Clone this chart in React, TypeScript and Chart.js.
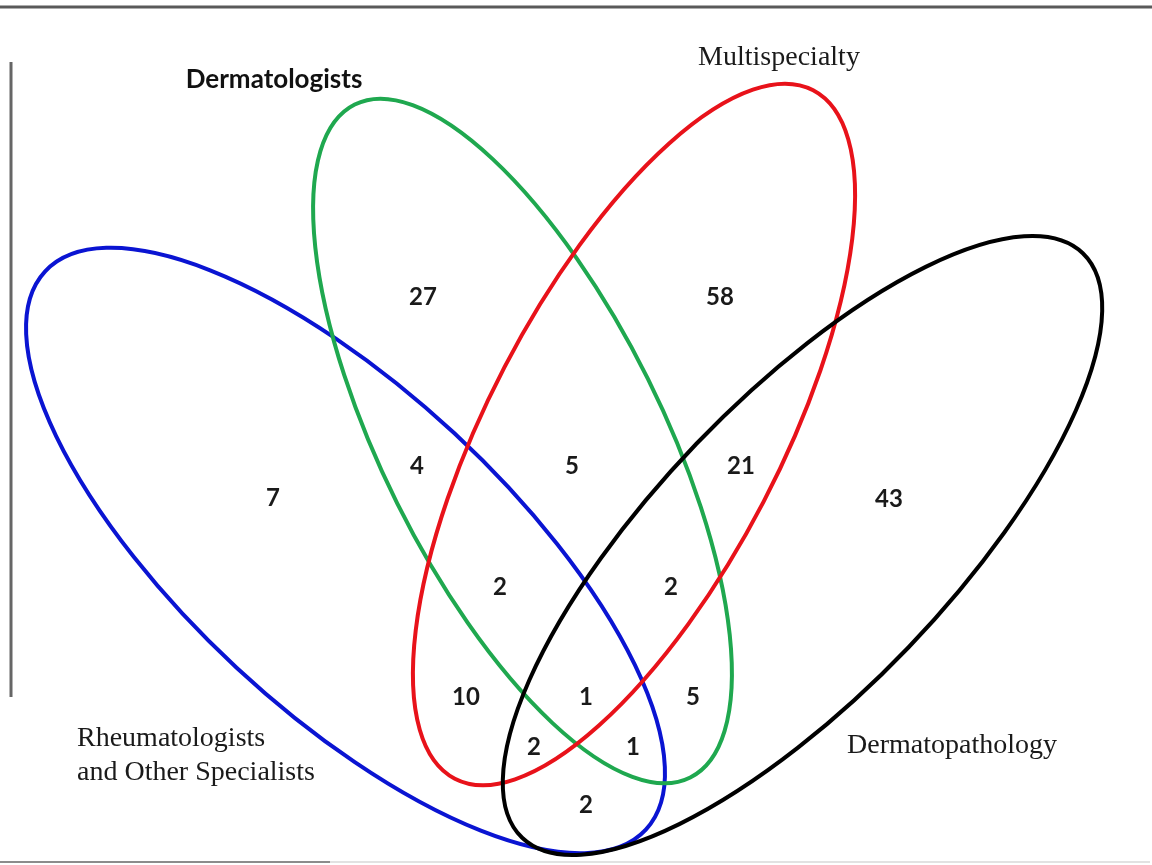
import React, { useEffect, useRef } from "react";
import { Chart, registerables } from "chart.js";

Chart.register(...registerables);

// Region counts of the Venn diagram and where each count sits (data units = pixels of the 1152x865 frame)
const regionCounts = [27, 58, 4, 5, 21, 7, 43, 2, 2, 10, 1, 5, 2, 1, 2];
const regionX = [423, 720, 417, 572, 741, 273, 889, 500, 671, 466, 586, 693, 534, 633, 586];
const regionY = [297, 297, 466, 466, 466, 498, 499, 587, 587, 697, 697, 697, 747, 747, 805];

// The four sets (ellipses)
const setNames = ["Rheumatologists|and Other Specialists", "Dermatologists", "Multispecialty", "Dermatopathology"];
const setColors = ["#0a14d2", "#1fa84f", "#e8121a", "#000000"];
const setCenterX = [345.5, 522.5, 634, 802.5];
const setCenterY = [550.5, 441, 434.5, 545.5];
const setRadiusA = [410, 376, 388, 405];
const setRadiusB = [160, 140, 146, 147];
const setRotationDeg = [42.9, 63.5, -62.5, -46.2];

// Set label placement
const labelX = [77, 274, 779, 847];
const labelY = [739, 80, 58, 746];
const labelAlign = ["left", "center", "center", "left"];
const labelBold = [false, true, false, false];

const venPlugin = {
  id: "vennDraw",
  beforeDatasetsDraw(chart: any) {
    const { ctx, scales } = chart;
    const xs = scales.x;
    const ys = scales.y;
    ctx.save();
    // frame lines
    ctx.lineCap = "butt";
    ctx.strokeStyle = "#5a5a5a";
    ctx.lineWidth = 3;
    ctx.beginPath();
    ctx.moveTo(xs.getPixelForValue(0), ys.getPixelForValue(7));
    ctx.lineTo(xs.getPixelForValue(1152), ys.getPixelForValue(7));
    ctx.stroke();
    ctx.strokeStyle = "#666666";
    ctx.beginPath();
    ctx.moveTo(xs.getPixelForValue(11), ys.getPixelForValue(62));
    ctx.lineTo(xs.getPixelForValue(11), ys.getPixelForValue(697));
    ctx.stroke();
    ctx.lineWidth = 2;
    ctx.strokeStyle = "#e2e2e2";
    ctx.beginPath();
    ctx.moveTo(xs.getPixelForValue(0), ys.getPixelForValue(862));
    ctx.lineTo(xs.getPixelForValue(1150), ys.getPixelForValue(862));
    ctx.stroke();
    ctx.strokeStyle = "#8c8c8c";
    ctx.beginPath();
    ctx.moveTo(xs.getPixelForValue(0), ys.getPixelForValue(862));
    ctx.lineTo(xs.getPixelForValue(330), ys.getPixelForValue(862));
    ctx.stroke();

    // ellipses
    ctx.lineWidth = 4;
    for (let i = 0; i < setNames.length; i++) {
      const cx = xs.getPixelForValue(setCenterX[i]);
      const cy = ys.getPixelForValue(setCenterY[i]);
      const rx = Math.abs(xs.getPixelForValue(setCenterX[i] + setRadiusA[i]) - cx);
      const ry = Math.abs(xs.getPixelForValue(setCenterX[i] + setRadiusB[i]) - cx);
      ctx.strokeStyle = setColors[i];
      ctx.beginPath();
      ctx.ellipse(cx, cy, rx, ry, (setRotationDeg[i] * Math.PI) / 180, 0, Math.PI * 2);
      ctx.stroke();
    }
    ctx.restore();
  },
  afterDatasetsDraw(chart: any) {
    const { ctx, scales } = chart;
    const xs = scales.x;
    const ys = scales.y;
    ctx.save();
    // counts
    const meta = chart.getDatasetMeta(0);
    ctx.fillStyle = "#1a1a1a";
    ctx.font = "bold 24px Lato";
    ctx.textAlign = "center";
    ctx.textBaseline = "middle";
    meta.data.forEach((pt: any, i: number) => {
      ctx.fillText(String(regionCounts[i]), pt.x, pt.y);
    });
    // set labels
    for (let i = 0; i < setNames.length; i++) {
      const lines = setNames[i].split("|");
      ctx.textAlign = labelAlign[i] as CanvasTextAlign;
      ctx.textBaseline = "middle";
      if (labelBold[i]) {
        ctx.font = "bold 26px Lato";
        ctx.fillStyle = "#111111";
      } else {
        ctx.font = "28px 'Liberation Serif'";
        ctx.fillStyle = "#1a1a1a";
      }
      lines.forEach((ln, j) => {
        ctx.fillText(ln, xs.getPixelForValue(labelX[i]), ys.getPixelForValue(labelY[i] + j * 34));
      });
    }
    ctx.restore();
  },
};

export default function App() {
  const ref = useRef<HTMLCanvasElement | null>(null);
  useEffect(() => {
    if (!ref.current) return;
    const chart = new Chart(ref.current, {
      type: "scatter",
      data: {
        datasets: [
          {
            label: "counts",
            data: regionX.map((x, i) => ({ x, y: regionY[i] })),
            pointRadius: 0,
            pointHoverRadius: 0,
          },
        ],
      },
      options: {
        animation: false,
        responsive: true,
        maintainAspectRatio: false,
        layout: { padding: 0 },
        events: [],
        plugins: {
          legend: { display: false },
          tooltip: { enabled: false },
          title: { display: false },
        },
        scales: {
          x: { type: "linear", min: 0, max: 1152, display: false },
          y: { type: "linear", min: 0, max: 865, reverse: true, display: false },
        },
      },
      plugins: [venPlugin],
    });
    return () => chart.destroy();
  }, []);
  return (
    <div style={{ position: "absolute", left: 0, top: 0, width: 1152, height: 865, background: "#ffffff" }}>
      <canvas ref={ref} />
    </div>
  );
}
